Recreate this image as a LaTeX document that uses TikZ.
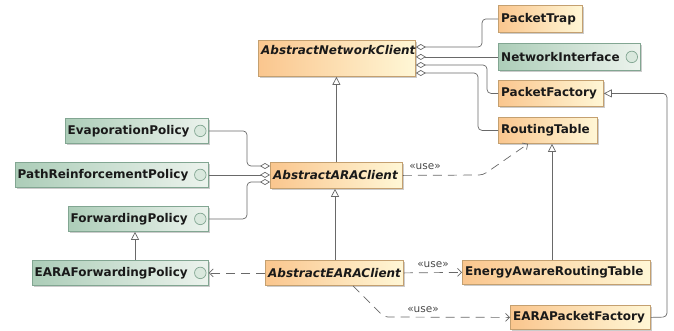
\documentclass[tikz,border=0pt]{standalone}
\usepackage{fontspec}
\setmainfont{DejaVu Sans}
\usetikzlibrary{arrows.meta,shadows,calc}
\definecolor{oL}{RGB}{250,198,142}
\definecolor{oR}{RGB}{255,247,214}
\definecolor{oB}{RGB}{196,160,112}
\definecolor{gL}{RGB}{172,205,184}
\definecolor{gR}{RGB}{236,243,237}
\definecolor{gB}{RGB}{130,166,146}
\definecolor{ln}{RGB}{105,105,105}
\definecolor{tx}{RGB}{25,25,25}
\tikzset{
  box/.style={draw, line width=0.8pt, minimum height=25, anchor=north west, inner sep=0,
    drop shadow={shadow xshift=2pt, shadow yshift=-2pt, fill=black!40, opacity=0.5}},
  cls/.style={box, draw=oB, left color=oL, right color=oR},
  ifc/.style={box, draw=gB, left color=gL, right color=gR},
  txt/.style={anchor=west, inner sep=0, text=tx, font=\fontsize{12}{14}\selectfont\bfseries},
  atxt/.style={txt, font=\fontsize{12}{14}\selectfont\bfseries\itshape},
  circ/.style={circle, draw=gB, fill=gR!70!gL, line width=0.7pt, minimum size=11.5pt, inner sep=0},
  conn/.style={draw=ln, line width=0.7pt, rounded corners=4pt},
  agg/.style={conn, {Diamond[open, length=10pt, width=6pt]}-},
  inh/.style={conn, -{Triangle[open, length=8pt, width=8pt, fill=white]}},
  dep/.style={conn, dash pattern=on 9pt off 6pt, -{Straight Barb[length=4pt, width=8pt]}},
  usel/.style={inner sep=0, text=ln!70!black, font=\fontsize{10.5}{12}\selectfont}
}
\begin{document}
\begin{tikzpicture}[x=1pt, y=-1pt]
\useasboundingbox (0,0) rectangle (674,330);
% classes
\node[cls, minimum width=157, minimum height=36] (anc) at (258,40) {};
\node[atxt] (anc-t) at ($(anc.north west)+(3,10)$) {AbstractNetworkClient};
\node[cls, minimum width=84, minimum height=27] (pt) at (498,5) {};
\node[txt] (pt-t) at ($(pt.west)+(3,0)$) {PacketTrap};
\node[ifc, minimum width=142, minimum height=27] (ni) at (498,43) {};
\node[txt] (ni-t) at ($(ni.west)+(3,0)$) {NetworkInterface};
\node[circ] (ni-c) at ($(ni.east)+(-9,0)$) {};
\node[cls, minimum width=105, minimum height=26] (pf) at (498,80) {};
\node[txt] (pf-t) at ($(pf.west)+(3,0)$) {PacketFactory};
\node[cls, minimum width=99, minimum height=26] (rt) at (498,117) {};
\node[txt] (rt-t) at ($(rt.west)+(3,0)$) {RoutingTable};
\node[ifc, minimum width=143] (ep) at (65,118) {};
\node[txt] (ep-t) at ($(ep.west)+(2.5,0)$) {EvaporationPolicy};
\node[circ] (ep-c) at ($(ep.east)+(-8.5,0)$) {};
\node[ifc, minimum width=193] (prp) at (15,162) {};
\node[txt] (prp-t) at ($(prp.west)+(2.5,0)$) {PathReinforcementPolicy};
\node[circ] (prp-c) at ($(prp.east)+(-8.5,0)$) {};
\node[ifc, minimum width=140] (fp) at (68,206) {};
\node[txt] (fp-t) at ($(fp.west)+(2.5,0)$) {ForwardingPolicy};
\node[circ] (fp-c) at ($(fp.east)+(-8.5,0)$) {};
\node[cls, minimum width=132, minimum height=26] (aara) at (270,162) {};
\node[atxt] (aara-t) at ($(aara.west)+(3,0)$) {AbstractARAClient};
\node[ifc, minimum width=176] (efp) at (32,260) {};
\node[txt] (efp-t) at ($(efp.west)+(2.5,0)$) {EARAForwardingPolicy};
\node[circ] (efp-c) at ($(efp.east)+(-8.5,0)$) {};
\node[cls, minimum width=138] (aeara) at (265,260) {};
\node[atxt] (aeara-t) at ($(aeara.west)+(3,0)$) {AbstractEARAClient};
\node[cls, minimum width=188, minimum height=24] (eart) at (462,260) {};
\node[txt] (eart-t) at ($(eart.west)+(3,0)$) {EnergyAwareRoutingTable};
\node[cls, minimum width=140, minimum height=24] (epf) at (510,305) {};
\node[txt] (epf-t) at ($(epf.west)+(3,0)$) {EARAPacketFactory};
% aggregations
\draw[agg] (anc.east |- 0,47) -- (482,47) |- (pt.west);
\draw[agg] (anc.east |- ni.west) -- (ni.west);
\draw[agg] (anc.east |- 0,65) -- (487,65) |- (pf.west);
\draw[agg] (anc.east |- 0,73) -- (478,73) |- (rt.west);
\draw[agg] (aara.west |- 0,166) -- (247,166) |- (ep.east);
\draw[agg] (aara.west |- prp.east) -- (prp.east);
\draw[agg] (aara.west |- 0,182) -- (247,182) |- (fp.east);
% generalisations
\draw[inh] (aara.north) -- (aara.north |- anc.south);
\draw[inh] (aeara.north -| 335,0) -- (aara.south -| 335,0);
\draw[inh] (eart.north -| 552,0) -- (rt.south -| 552,0);
\draw[inh] (efp.north -| 135,0) -- (fp.south -| 135,0);
\draw[inh] (epf.east) -- (667,317) |- (pf.east);
% dependencies
\draw[dep] (aara.east) -- (483,175) -- (rt.south -| 528,0);
\node[usel] (u1) at (425,167) {«use»};
\draw[dep] (aeara.west) -- (efp.east);
\draw[dep] (aeara.east) -- (eart.west);
\node[usel] (u2) at (433,265) {«use»};
\draw[dep] (aeara.south -| 353,0) -- (384,317) -- (epf.west);
\node[usel] (u3) at (423,310) {«use»};
\end{tikzpicture}
\end{document}
